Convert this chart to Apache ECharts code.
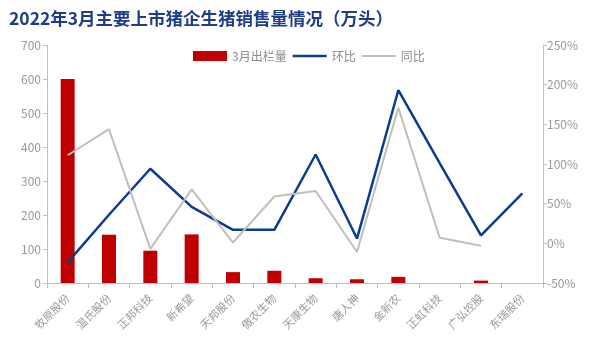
<!DOCTYPE html>
<html><head><meta charset="utf-8">
<script src="https://cdn.jsdelivr.net/npm/echarts@6/dist/echarts.min.js"></script>
<style>html,body{margin:0;padding:0;background:#fff}#c{width:600px;height:360px}</style>
</head><body><div id="c"></div>
<script>
const categories = ['牧原股份','温氏股份','正邦科技','新希望','天邦股份','傲农生物','天康生物','唐人神','金新农','正虹科技','广弘控股','东瑞股份'];
const salesMarch = [600, 142, 95, 143, 32, 36, 14, 11, 18, null, 7, null];
const momPct = [-24, 36, 94, 46, 17, 17, 112, 6, 193, 101, 10, 63];
const yoyPct = [111, 144, -7, 68, 1, 59, 66, -11, 171, 7, -3, null];
const leftTicks = [0, 700, 100];
const rightTicks = [-50, 250, 50];

const chart = echarts.init(document.getElementById('c'), null, {renderer: 'canvas'});
const font = '"Noto Sans CJK SC", "Noto Sans", sans-serif';
chart.setOption({
  animation: false,
  title: {
    text: '2022年3月主要上市猪企生猪销售量情况（万头）',
    left: 4, top: 5,
    textStyle: {fontFamily: font, fontSize: 17.5, fontWeight: 'bold', color: '#1f3d86'}
  },
  legend: {
    left: 188, top: 45,
    itemWidth: 34, itemHeight: 10, itemGap: 6,
    textStyle: {fontFamily: font, fontSize: 12, color: '#8c8c8c'},
    data: [
      {name: '3月出栏量', icon: 'rect'},
      {name: '环比', icon: 'path://M0,0 L34,0 L34,2.5 L0,2.5 Z'},
      {name: '同比', icon: 'path://M0,0 L34,0 L34,2 L0,2 Z'}
    ]
  },
  grid: {left: 47, right: 57, top: 45, bottom: 77},
  xAxis: {
    type: 'category', data: categories,
    axisLine: {lineStyle: {color: '#bfbfbf'}},
    axisTick: {show: true, length: 5, lineStyle: {color: '#bfbfbf'}},
    axisLabel: {rotate: 45, interval: 0, fontFamily: font, fontSize: 11, color: '#999999', margin: 13}
  },
  yAxis: [{
    type: 'value', min: leftTicks[0], max: leftTicks[1], interval: leftTicks[2],
    axisLine: {show: true, lineStyle: {color: '#bfbfbf'}},
    axisTick: {show: true, length: 4, lineStyle: {color: '#bfbfbf'}},
    splitLine: {show: false},
    axisLabel: {fontFamily: font, fontSize: 12, color: '#999999', margin: 6}
  }, {
    type: 'value', min: rightTicks[0], max: rightTicks[1], interval: rightTicks[2],
    axisLine: {show: true, lineStyle: {color: '#bfbfbf'}},
    axisTick: {show: true, length: 4, lineStyle: {color: '#bfbfbf'}},
    splitLine: {show: false},
    axisLabel: {fontFamily: font, fontSize: 12, color: '#999999', margin: 4, formatter: '{value}%'}
  }],
  series: [{
    name: '3月出栏量', type: 'bar', data: salesMarch, barWidth: 14,
    itemStyle: {color: '#c00000'}
  }, {
    name: '环比', type: 'line', yAxisIndex: 1, data: momPct,
    symbol: 'none', lineStyle: {color: '#0a3d8f', width: 2.5}, itemStyle: {color: '#0a3d8f'}
  }, {
    name: '同比', type: 'line', yAxisIndex: 1, data: yoyPct,
    symbol: 'none', lineStyle: {color: '#bfbfbf', width: 2}, itemStyle: {color: '#bfbfbf'}
  }]
});
</script>
</body></html>
